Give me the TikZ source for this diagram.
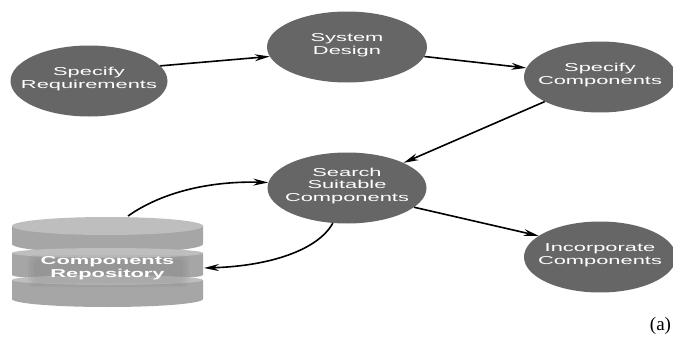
\documentclass[tikz,border=0pt]{standalone}
\usepackage{fontspec}
\setmainfont{Liberation Sans}
\newfontfamily\serifface{Liberation Serif}
\usetikzlibrary{shapes.geometric,arrows.meta}
\definecolor{nodegray}{HTML}{666666}
\definecolor{disktop}{HTML}{BEBEBE}
\definecolor{diskside}{HTML}{A6A6A6}
\newcommand{\wlabel}[2][12.5]{\makebox[0pt]{\raisebox{-1.4pt}[0pt][0pt]{\scalebox{1.9}[1]{\fontsize{11.5}{#1}\selectfont\begin{tabular}{@{}c@{}}#2\end{tabular}}}}}
\tikzset{
  x=1pt,y=-1pt,
  stage/.style={ellipse,fill=nodegray,text=white,inner sep=0pt,minimum width=157pt,minimum height=71pt},
  flow/.style={draw=black,line width=1.6pt,-{Stealth[length=15pt,width=7pt]}},
  disktopface/.style={fill=disktop,draw=none},
  disksideface/.style={fill=diskside,draw=none},
  glow/.style={fill=nodegray,opacity=.08,rounded corners=6pt}
}
\begin{document}
\begin{tikzpicture}
\useasboundingbox (0,0) rectangle (673,340);
\fill[white] (0,0) rectangle (673,340);
% database disks
\fill[disksideface] (12,226) -- (12,244) arc[start angle=180,end angle=360,x radius=95.5,y radius=-9] -- (203,226) -- cycle;
\fill[disktopface] (107.5,226) ellipse[x radius=95.5,y radius=9];
\fill[disksideface] (12,253) -- (12,275) arc[start angle=180,end angle=360,x radius=95.5,y radius=-5] -- (203,253) -- cycle;
\fill[disktopface] (107.5,253) ellipse[x radius=95.5,y radius=5];
\fill[disksideface] (12,280) -- (12,299) arc[start angle=180,end angle=360,x radius=95.5,y radius=-8] -- (203,280) -- cycle;
\fill[disktopface] (107.5,280) ellipse[x radius=95.5,y radius=5];
\fill[glow] (28,255) rectangle (189,287);
\fill[glow] (31,257) rectangle (186,285);
\fill[glow] (34,259) rectangle (183,283);
\node[text=white,inner sep=0pt] (repo) at (107.5,270) {\wlabel[13.5]{\textbf{Components}\\\textbf{Repository}}};
\coordinate (repotop) at (128,216);
\coordinate (reposide) at (204,268);
% stages
\node[stage] (req) at (89,81) {\wlabel{Specify\\Requirements}};
\node[stage,minimum width=160pt] (design) at (347,47) {\wlabel{System\\Design}};
\node[stage,minimum width=152pt] (spec) at (600,77) {\wlabel{Specify\\Components}};
\node[stage,minimum width=159pt] (search) at (347,188) {\wlabel{Search\\Suitable\\Components}};
\node[stage,minimum width=152pt] (inc) at (600,257) {\wlabel{Incorporate\\Components}};
% connectors
\draw[flow] (req.12) -- (design.187);
\draw[flow] (design.-7) -- (spec.173);
\draw[flow] (spec.204) -- (search.24);
\draw[flow] (search.-16) -- (inc.161);
\draw[flow] (repotop) .. controls (165,190) and (215,181) .. (search.176);
\draw[flow] (search.248) .. controls (318,250) and (270,266) .. (reposide);
\node[text=black,inner sep=0pt,font=\serifface\fontsize{19}{21}\selectfont] (tag) at (660.5,326) {(a)};
\end{tikzpicture}
\end{document}
